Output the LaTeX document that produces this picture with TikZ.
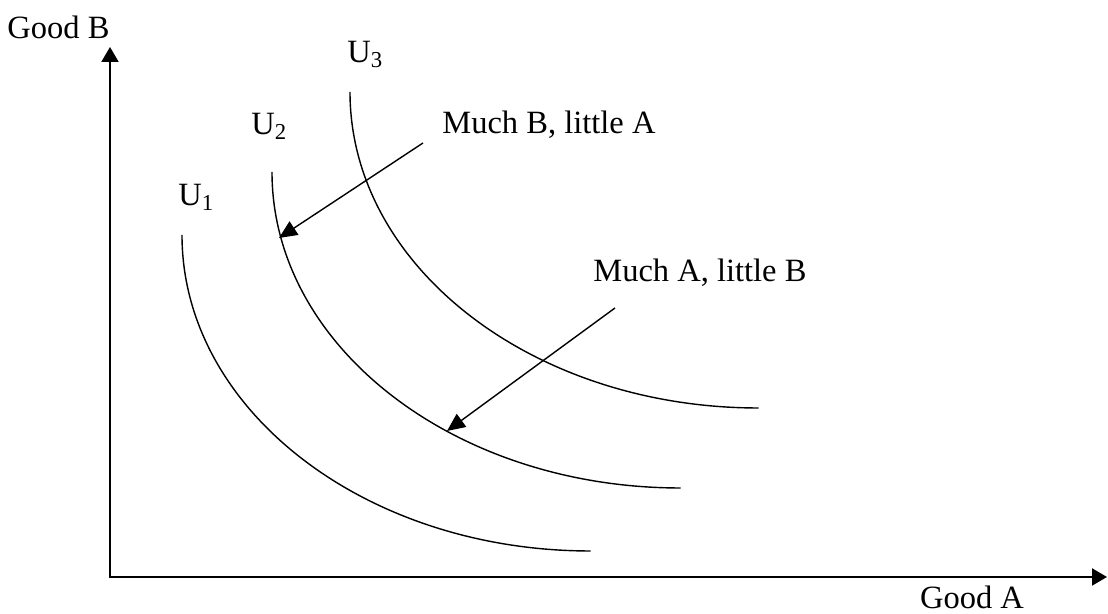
\documentclass[tikz,border=0pt]{standalone}
\usepackage{fontspec}
\setmainfont{Liberation Serif}
\usetikzlibrary{arrows.meta,positioning}

\begin{document}
\begin{tikzpicture}[
  axis/.style={line width=1.2pt, {Triangle[length=0.3cm,width=0.34cm]}-{Triangle[length=0.3cm,width=0.34cm]}},
  indiff/.style={line width=0.8pt},
  pointer/.style={line width=0.8pt, -{Triangle[length=0.36cm,width=0.32cm]}},
  lbl/.style={inner sep=0pt, font=\fontsize{18.5}{22}\selectfont}]
  \useasboundingbox (0,0) rectangle (22.16,12.28);

  % axes
  \coordinate (O) at (2.2,0.74);
  \coordinate (ytop) at (2.2,11.34);
  \coordinate (xend) at (22.14,0.74);
  \draw[axis] (ytop) -- (O) -- (xend);
  \node[lbl, anchor=base] (goodB) at (1.17,11.5) {Good B};
  \node[lbl, anchor=base] (goodA) at (19.44,0.1) {Good A};

  % indifference curves
  \coordinate (u1top) at (3.64,7.58);
  \coordinate (u2top) at (5.44,8.84);
  \coordinate (u3top) at (7.0,10.44);
  \foreach \c in {u1top,u2top,u3top}
    \draw[indiff] (\c) arc[start angle=180, end angle=270, x radius=8.17, y radius=6.32];
  \node[lbl, anchor=base west] (u1) at (3.56,8.16) {U\textsubscript{1}};
  \node[lbl, anchor=base west] (u2) at (5.02,9.58) {U\textsubscript{2}};
  \node[lbl, anchor=base west] (u3) at (6.94,11.02) {U\textsubscript{3}};

  % pointers
  \node[lbl, anchor=base west] (muchB) at (8.84,9.6) {Much B, little A};
  \node[lbl, anchor=base west] (muchA) at (11.86,6.64) {Much A, little B};
  \coordinate (pB) at (8.46,9.42);
  \coordinate (hitB) at (5.58,7.52);
  \coordinate (pA) at (12.3,6.12);
  \coordinate (hitA) at (8.94,3.66);
  \draw[pointer] (pB) -- (hitB);
  \draw[pointer] (pA) -- (hitA);
\end{tikzpicture}
\end{document}
